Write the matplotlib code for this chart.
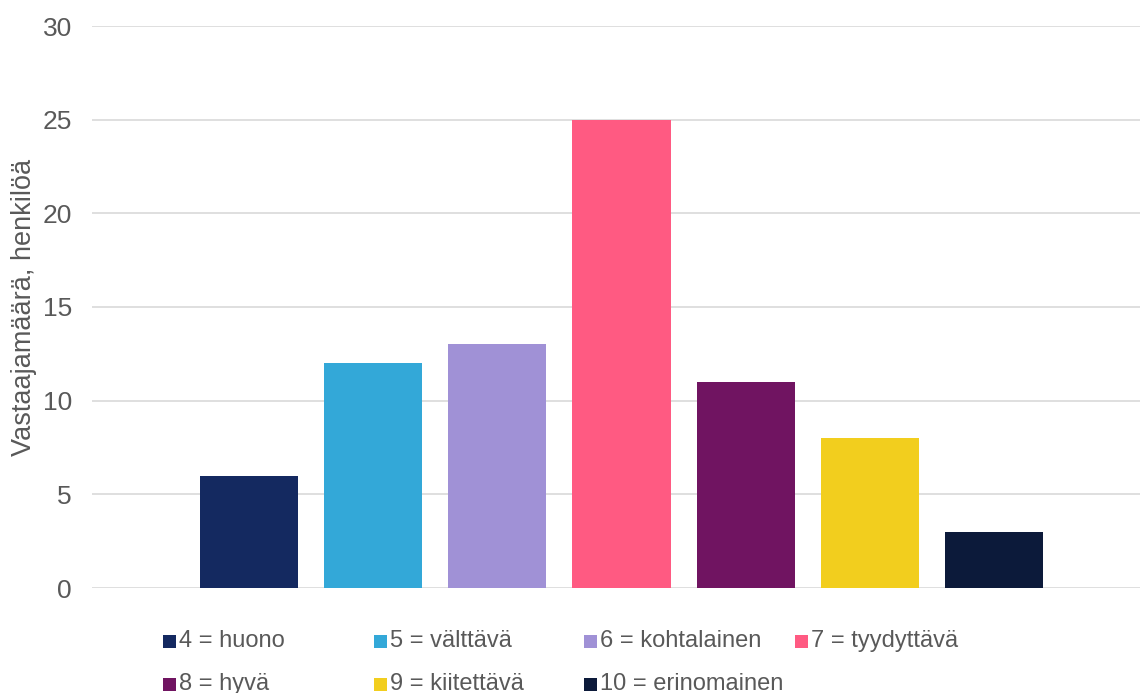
import matplotlib
matplotlib.use("Agg")
import matplotlib.pyplot as plt
from matplotlib.patches import Rectangle

categories = ["4 = huono", "5 = välttävä", "6 = kohtalainen", "7 = tyydyttävä",
              "8 = hyvä", "9 = kiitettävä", "10 = erinomainen"]
values = [6, 12, 13, 25, 11, 8, 3]
colors = ["#142960", "#33A8D8", "#A091D6", "#FF5A82", "#701461", "#F2CE1E", "#0C1A3A"]
yticks = [0, 5, 10, 15, 20, 25, 30]
ylabel = "Vastaajamäärä, henkilöä"

plt.rcParams['font.family'] = ['Liberation Sans', 'DejaVu Sans']
FS = 17
W, H = 1142, 693
fig = plt.figure(figsize=(W / 100, H / 100), dpi=100)
ax = fig.add_axes([92 / W, 1 - 588 / H, (1140 - 92) / W, (588 - 26) / H])

x = list(range(len(values)))
ax.bar(x, values, width=0.79, color=colors, zorder=3)
ax.set_xlim(-1.264, 7.175)
ax.set_ylim(0, 30)
ax.set_yticks(yticks)
ax.set_yticklabels([str(t) for t in yticks], fontsize=19, color="#595959")
ax.set_xticks([])
ax.tick_params(axis='y', length=0, pad=14.4)
ax.grid(axis='y', color="#D9D9D9", linewidth=1.2, zorder=0)
for s in ax.spines.values():
    s.set_visible(False)
ax.set_ylabel(ylabel, fontsize=19.5, color="#595959")
ax.yaxis.set_label_coords((37 - 92) / (1140 - 92), (588 - 307) / (588 - 26))

# legend: 4 columns, 2 rows
col_x = [163, 374, 584, 795]
row_y = [641, 684]
sq = 13
for i, (lab, c) in enumerate(zip(categories, colors)):
    r, k = divmod(i, 4)
    px, py = col_x[k], row_y[r]
    fig.patches.append(Rectangle((px / W, 1 - (py + sq / 2) / H), sq / W, sq / H,
                                 transform=fig.transFigure, facecolor=c, edgecolor='none'))
    fig.text((px + sq + 3) / W, 1 - py / H, lab, fontsize=FS, color="#595959",
             ha='left', va='center')

fig.savefig("out.png", dpi=100)
